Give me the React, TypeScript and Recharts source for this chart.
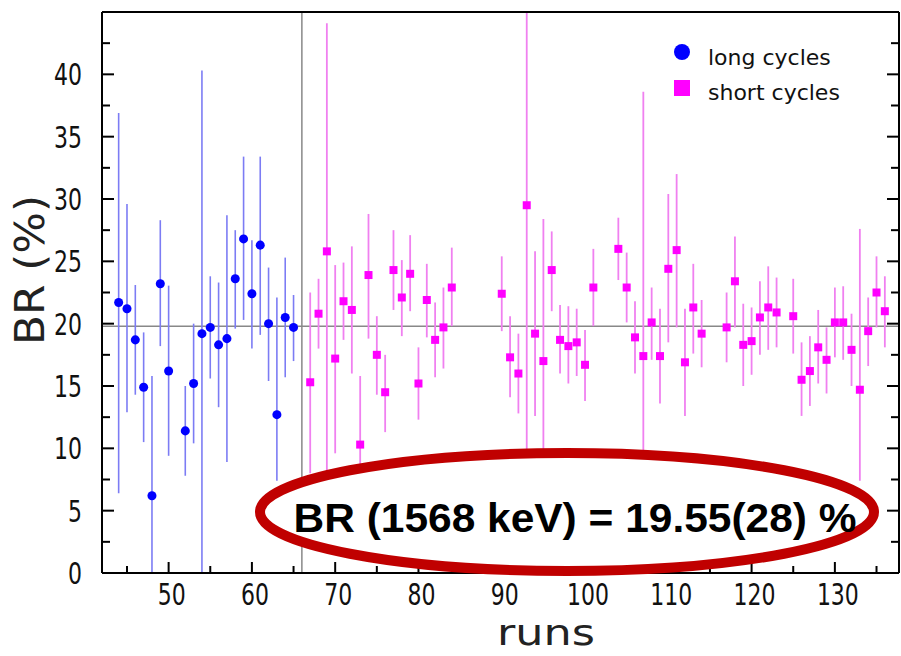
import React from 'react';
import {
  ScatterChart, Scatter, XAxis, YAxis, ErrorBar, ReferenceLine, Legend, Customized,
} from 'recharts';

// ---- data ----
const longRuns = [44, 45, 46, 47, 48, 49, 50, 52, 53, 54, 55, 56, 57, 58, 59, 60, 61, 62, 63, 64, 65];
const longBR = [21.7, 21.2, 18.7, 14.9, 6.2, 23.2, 16.2, 11.4, 15.2, 19.2, 19.7, 18.3, 18.8, 23.6, 26.8, 22.4, 26.3, 20.0, 12.7, 20.5, 19.7];
const longLow = [6.4, 12.9, 14.3, 10.5, 0, 18.2, 9.4, 7.8, 10.4, 0, 15.6, 13.3, 8.9, 19.6, 20.3, 18.0, 19.1, 15.4, 7.4, 15.7, 17.0];
const longHigh = [36.9, 29.6, 23.1, 19.3, 15.8, 28.3, 23.05, 15.0, 20.0, 40.3, 23.8, 23.3, 28.7, 27.5, 33.4, 26.7, 33.4, 24.5, 22.1, 25.3, 22.3];

const shortRuns = [67, 68, 69, 70, 71, 72, 73, 74, 75, 76, 77, 78, 79, 80, 81, 82, 83, 84,
  90, 91, 92, 93, 94, 95, 96, 97, 98, 99, 100, 101,
  104, 105, 106, 107, 108, 109, 110, 111, 112, 113, 114,
  117, 118, 119, 120, 121, 122, 123,
  125, 126, 127, 128, 129, 130, 131, 132, 133, 134, 135, 136];
const shortBR = [15.3, 20.8, 25.8, 17.2, 21.8, 21.1, 10.3, 23.9, 17.5, 14.5, 24.3, 22.1, 24.0, 15.2, 21.9, 18.7, 19.7, 22.9,
  22.4, 17.3, 16.0, 29.5, 19.2, 17.0, 24.3, 18.7, 18.2, 18.5, 16.7, 22.9,
  26.0, 22.9, 18.9, 17.4, 20.1, 17.4, 24.4, 25.9, 16.9, 21.3, 19.2,
  19.7, 23.4, 18.3, 18.6, 20.5, 21.3, 20.9,
  20.6, 15.5, 16.2, 18.1, 17.1, 20.1, 20.1, 17.9, 14.7, 19.4, 22.5, 21.0];
const shortLow = [8.0, 18.0, 8.0, 9.6, 18.7, 16.0, 7.4, 18.8, 14.3, 11.3, 21.1, 19.0, 21.0, 12.3, 18.9, 15.7, 16.4, 19.8,
  19.4, 14.1, 12.8, 0, 12.6, 5.5, 21.0, 16.0, 15.2, 15.8, 13.8, 19.8,
  23.5, 20.1, 16.0, 0, 17.1, 13.6, 18.5, 19.7, 12.6, 17.6, 16.5,
  16.9, 19.7, 15.0, 15.9, 17.5, 17.9, 18.1,
  17.6, 12.6, 13.4, 15.2, 14.4, 17.3, 17.1, 15.0, 7.4, 16.6, 19.7, 18.1];
const shortHigh = [22.5, 23.6, 44.1, 24.7, 24.9, 26.2, 15.8, 28.8, 20.6, 17.5, 27.5, 25.1, 27.1, 18.1, 24.8, 21.7, 22.9, 26.1,
  25.4, 20.6, 19.2, 45, 25.8, 28.4, 27.4, 21.5, 21.4, 21.2, 19.5, 26.0,
  28.5, 25.7, 21.8, 38.6, 22.9, 21.2, 30.4, 32.0, 21.2, 24.8, 21.9,
  22.5, 27.0, 21.6, 21.3, 23.4, 24.6, 23.7,
  23.6, 18.5, 19.0, 21.1, 19.7, 22.9, 23.0, 20.8, 27.6, 22.1, 25.4, 23.8];

const xTicks = [45, 50, 55, 60, 65, 70, 75, 80, 85, 90, 95, 100, 105, 110, 115, 120, 125, 130, 135];
const yTicks = [0, 2.5, 5, 7.5, 10, 12.5, 15, 17.5, 20, 22.5, 25, 27.5, 30, 32.5, 35, 37.5, 40, 42.5];
const xDomain = [42, 137.7];
const yDomain = [0, 45];
const separatorRun = 66;
const meanLine = 19.8;
const resultText = 'BR (1568 keV) = 19.55(28) %';
const xTitle = 'runs';
const yTitle = 'BR (%)';
const longName = 'long cycles';
const shortName = 'short cycles';

const build = (runs: number[], br: number[], lo: number[], hi: number[]) =>
  runs.map((r, i) => ({ run: r, br: br[i], err: [br[i] - lo[i], hi[i] - br[i]] }));

const longData = build(longRuns, longBR, longLow, longHigh);
const shortData = build(shortRuns, shortBR, shortLow, shortHigh);

// ---- layout ----
const W = 901;
const H = 656;
const PLOT_TOP = 12;
const PLOT_BOTTOM = 573;
const PLOT_LEFT = 102;
const PLOT_RIGHT = 899;
// axes take 1px each, so margins are 1px smaller than the plot offsets
const M = { top: PLOT_TOP - 1, right: W - PLOT_RIGHT - 1, bottom: H - PLOT_BOTTOM - 1, left: PLOT_LEFT - 1 };
const FONT = '"DejaVu Sans", sans-serif';
const TXT = '#111';
const STRETCH = 1.38;

const XBottomTick = (p: any) => {
  const v = p.payload.value;
  const x = p.x;
  const major = v % 10 === 0;
  return (
    <g>
      <line x1={x} x2={x} y1={PLOT_BOTTOM} y2={PLOT_BOTTOM - (major ? 11 : 7)} stroke="#000" strokeWidth={2} />
      {major && (
        <text transform={`translate(${x + 3},${PLOT_BOTTOM + 32}) scale(1,${STRETCH})`} textAnchor="middle"
          fontFamily={FONT} fontSize={22} fill={TXT}>
          {v}
        </text>
      )}
    </g>
  );
};
const XTopTick = (p: any) => {
  const v = p.payload.value;
  const x = p.x;
  const major = v % 10 === 0;
  return <line x1={x} x2={x} y1={PLOT_TOP} y2={PLOT_TOP + (major ? 11 : 7)} stroke="#000" strokeWidth={2} />;
};
const YLeftTick = (p: any) => {
  const v = p.payload.value;
  const y = p.y;
  const major = v % 5 === 0;
  return (
    <g>
      <line x1={PLOT_LEFT} x2={PLOT_LEFT + (major ? 12 : 8)} y1={y} y2={y} stroke="#000" strokeWidth={2} />
      {major && (
        <text transform={`translate(${PLOT_LEFT - 20},${y + 11}) scale(1,${STRETCH})`} textAnchor="end"
          fontFamily={FONT} fontSize={22} fill={TXT}>
          {v}
        </text>
      )}
    </g>
  );
};
const YRightTick = (p: any) => {
  const v = p.payload.value;
  const y = p.y;
  const major = v % 5 === 0;
  return <line x1={PLOT_RIGHT} x2={PLOT_RIGHT - (major ? 12 : 8)} y1={y} y2={y} stroke="#000" strokeWidth={2} />;
};

const LegendContent = () => (
  <svg width={200} height={70} style={{ display: 'block', overflow: 'visible' }}>
    <circle cx={10} cy={10} r={8} fill="#0000ff" />
    <text x={36} y={23} fontFamily={FONT} fontSize={22} fill={TXT}>{longName}</text>
    <rect x={2} y={38} width={16} height={16} fill="#ff00ff" />
    <text x={36} y={58} fontFamily={FONT} fontSize={22} fill={TXT}>{shortName}</text>
  </svg>
);

const AxisTitles = () => (
  <g>
    <text transform={`translate(44,270) rotate(-90)`} textAnchor="middle" fontFamily={FONT} fontSize={40}
      textLength={150} lengthAdjust="spacingAndGlyphs" fill="#222">{yTitle}</text>
    <text x={546} y={645} textAnchor="middle" fontFamily={FONT} fontSize={36} textLength={98}
      lengthAdjust="spacingAndGlyphs" fill="#222">{xTitle}</text>
  </g>
);

export default function App() {
  return (
    <div style={{ position: 'absolute', left: 0, top: 0, width: W, height: H, background: '#fff' }}>
      <ScatterChart width={W} height={H} margin={M}>
        <XAxis xAxisId="b" type="number" dataKey="run" domain={xDomain} ticks={xTicks} allowDataOverflow
          orientation="bottom" height={1} tickLine={false} axisLine={{ stroke: '#000', strokeWidth: 2 }} tick={<XBottomTick />} interval={0} />
        <XAxis xAxisId="t" type="number" domain={xDomain} ticks={xTicks} allowDataOverflow
          orientation="top" height={1} tickLine={false} axisLine={{ stroke: '#000', strokeWidth: 2 }} tick={<XTopTick />} interval={0} />
        <YAxis yAxisId="l" type="number" dataKey="br" domain={yDomain} ticks={yTicks} allowDataOverflow
          orientation="left" width={1} tickLine={false} axisLine={{ stroke: '#000', strokeWidth: 2 }} tick={<YLeftTick />} interval={0} />
        <YAxis yAxisId="r" type="number" domain={yDomain} ticks={yTicks} allowDataOverflow
          orientation="right" width={1} tickLine={false} axisLine={{ stroke: '#000', strokeWidth: 2 }} tick={<YRightTick />} interval={0} />
        <ReferenceLine xAxisId="b" yAxisId="l" x={separatorRun} stroke="#888" strokeWidth={1.5} />
        <ReferenceLine xAxisId="b" yAxisId="l" y={meanLine} stroke="#888" strokeWidth={1.5} />
        <Scatter name={longName} data={longData} xAxisId="b" yAxisId="l" dataKey="br" fill="#0000ff" shape="circle" isAnimationActive={false}>
          <ErrorBar dataKey="err" direction="y" width={0} stroke="#7c7cf4" strokeWidth={1.6} isAnimationActive={false} />
        </Scatter>
        <Scatter name={shortName} data={shortData} xAxisId="b" yAxisId="l" dataKey="br" fill="#ff00ff" shape="square" isAnimationActive={false}>
          <ErrorBar dataKey="err" direction="y" width={0} stroke="#f080f0" strokeWidth={1.8} isAnimationActive={false} />
        </Scatter>
        <Legend layout="vertical" align="center" verticalAlign="middle" content={<LegendContent />}
          wrapperStyle={{ position: 'absolute', left: 672, top: 42, width: 200, height: 70 }} />
        <Customized component={<AxisTitles />} />
      </ScatterChart>
      <svg width={W} height={H} style={{ position: 'absolute', left: 0, top: 0, pointerEvents: 'none' }}>
        <ellipse cx={567} cy={512} rx={307} ry={59} fill="#fff" stroke="#c00000" strokeWidth={10} />
        <text x={575} y={532} textAnchor="middle" fontFamily='"Liberation Sans", Arial, sans-serif' fontWeight="bold"
          fontSize={41} textLength={563} lengthAdjust="spacingAndGlyphs" fill="#000">{resultText}</text>
      </svg>
    </div>
  );
}
